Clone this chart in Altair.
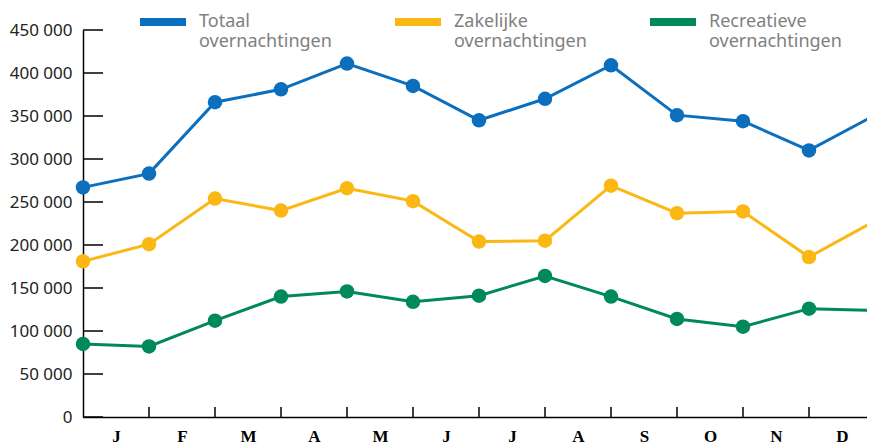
import altair as alt
import pandas as pd

months = ["J", "F", "M", "A", "M", "J", "J", "A", "S", "O", "N", "D"]
series = ["Totaal overnachtingen", "Zakelijke overnachtingen", "Recreatieve overnachtingen"]
totaal = [267000, 283000, 366000, 381000, 411000, 385000, 345000, 370000, 409000, 351000, 344000, 310000, 351000]
zakelijk = [181000, 201000, 254000, 240000, 266000, 251000, 204000, 205000, 269000, 237000, 239000, 186000, 228000]
recreatief = [85000, 82000, 112000, 140000, 146000, 134000, 141000, 164000, 140000, 114000, 105000, 126000, 124000]
y_ticks = [0, 50000, 100000, 150000, 200000, 250000, 300000, 350000, 400000, 450000]
colors = ["#0b6fbe", "#fbb714", "#00895a"]

rows = []
for name, vals in zip(series, [totaal, zakelijk, recreatief]):
    for i, v in enumerate(vals):
        rows.append({"pos": i, "serie": name, "waarde": v})
df = pd.DataFrame(rows)

STEP = 66
W, H = 784, 387
xscale = alt.Scale(domain=[0, W / STEP], nice=False, zero=False)
yscale = alt.Scale(domain=[0, 450000], nice=False)

month_expr = "[" + ",".join(f"'{m}'" for m in months) + "][floor(datum.value)]"

x_axis = alt.Axis(
    values=[i + 0.5 for i in range(len(months))], labelExpr=month_expr,
    ticks=False, grid=False, domainColor="black", domainWidth=1.5,
    labelFont="Liberation Serif", labelFontWeight="bold", labelFontSize=17,
    labelColor="black", labelPadding=11, labelFlush=False, labelOverlap=False,
    title=None)
y_axis = alt.Axis(
    values=y_ticks, labelExpr="replace(format(datum.value, ','), ',', ' ')",
    ticks=False, grid=False, domainColor="black", domainWidth=1.5,
    labelFont="Noto Sans", labelFontSize=17, labelColor="#222222",
    labelPadding=11, title=None)

lines = alt.Chart(df).mark_line(
    strokeWidth=3,
    point=alt.OverlayMarkDef(filled=True, size=210, opacity=1),
).encode(
    x=alt.X("pos:Q", scale=xscale, axis=x_axis),
    y=alt.Y("waarde:Q", scale=yscale, axis=y_axis),
    color=alt.Color("serie:N", scale=alt.Scale(domain=series, range=colors),
                    legend=alt.Legend(
                        title=None, orient="none", legendX=53, legendY=-35,
                        direction="horizontal", symbolType="stroke",
                        symbolSize=2116, symbolStrokeWidth=8,
                        labelExpr="split(datum.label, ' ')",
                        labelFont="Noto Sans", labelFontSize=18,
                        labelColor="#808080", labelOffset=9,
                        columnPadding=47, labelLimit=300,
                        labelBaseline="middle")),
)

ydf = pd.DataFrame({"waarde": y_ticks})
yticks = alt.Chart(ydf).mark_rule(color="black", strokeWidth=1.5).encode(
    x=alt.value(0), x2=alt.value(20),
    y=alt.Y("waarde:Q", scale=yscale, axis=y_axis),
)

xdf = pd.DataFrame({"pos": list(range(1, len(months) + 1))})
xticks = alt.Chart(xdf).mark_rule(color="black", strokeWidth=1.5).encode(
    x=alt.X("pos:Q", scale=xscale, axis=x_axis),
    y=alt.value(H - 10), y2=alt.value(H),
)

chart = alt.layer(lines, yticks, xticks).properties(
    width=W, height=H,
    autosize=alt.AutoSizeParams(type="none"),
    padding={"left": 75, "top": 22, "right": 0, "bottom": 27},
    background="white",
).configure_view(stroke=None)

chart.save("out.html", embed_options={"renderer": "svg", "actions": False})
